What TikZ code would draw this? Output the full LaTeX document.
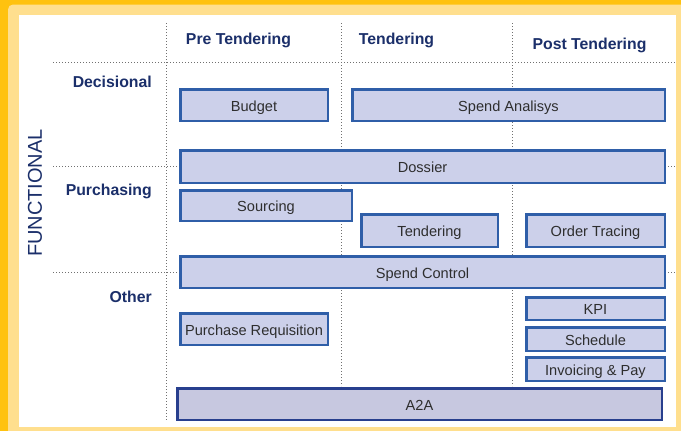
\documentclass[tikz,border=0pt]{standalone}
\usepackage{fontspec}
\setmainfont{Liberation Sans}
\definecolor{frameorange}{HTML}{FFC20F}
\definecolor{framelight}{HTML}{FFDF8E}
\definecolor{boxfill}{HTML}{CCD0EA}
\definecolor{boxline}{HTML}{2F5EA8}
\definecolor{atwofill}{HTML}{C7C8E0}
\definecolor{atwoline}{HTML}{283F8E}
\definecolor{navy}{HTML}{1B2F6A}
\definecolor{boxtext}{HTML}{2E2E2E}
\definecolor{gridgray}{HTML}{707070}
\begin{document}
\begin{tikzpicture}[x=1pt,y=-1pt,
    box/.style={draw=boxline, fill=boxfill, line width=2.5pt, inner sep=0pt,
      text=boxtext, font=\fontsize{14.6}{17}\selectfont, text height=12pt, text depth=0pt},
    head/.style={text=navy, font=\fontsize{15.8}{18}\selectfont\bfseries, inner sep=0pt},
    grid/.style={gridgray, line width=0.8pt, dash pattern=on 0.8pt off 2.2pt}]
  \useasboundingbox (0,0) rectangle (681,431);
  \fill[frameorange] (0,0) rectangle (681,431);
  \fill[framelight, rounded corners=5pt] (8,4.5) rectangle (700,450);
  \fill[white] (19,15) rectangle (676,427);
  \node[text=navy, font=\fontsize{20}{24}\selectfont, rotate=90, inner sep=0pt, text depth=0pt]
    (functional) at (35,193) {FUNCTIONAL};
  \draw[grid] (166,23) -- (166,420);
  \draw[grid] (341,23) -- (341,386);
  \draw[grid] (512,23) -- (512,386);
  \draw[grid] (53,62) -- (675,62);
  \draw[grid] (53,166) -- (675,166);
  \draw[grid] (53,272) -- (675,272);
  \node[head, anchor=base] (pre) at (238.5,45) {Pre Tendering};
  \node[head, anchor=base] (tend) at (396.5,45) {Tendering};
  \node[head, anchor=base] (post) at (589.5,49) {Post Tendering};
  \node[head, anchor=base east] (decisional) at (152,87.5) {Decisional};
  \node[head, anchor=base east] (purchasing) at (152,195) {Purchasing};
  \node[head, anchor=base east] (other) at (152,302) {Other};
  \begin{scope}[every node/.append style={box}]
    \node[minimum width=147.5pt, minimum height=31.5pt] (budget) at (254,105) {Budget};
    \node[minimum width=312.5pt, minimum height=31.5pt] (spend) at (508.5,105) {Spend Analisys};
    \node[minimum width=484.5pt, minimum height=32.5pt] (dossier) at (422.5,166.5) {Dossier};
    \node[minimum width=171.5pt, minimum height=30.5pt] (sourcing) at (266,205.5) {Sourcing};
    \node[minimum width=136.5pt, minimum height=32.5pt] (tendering) at (429.5,230.5) {Tendering};
    \node[minimum width=138.5pt, minimum height=32.5pt] (order) at (595.5,230.5) {Order Tracing};
    \node[minimum width=484.5pt, minimum height=31.5pt] (control) at (422.5,272) {Spend Control};
    \node[minimum width=147.5pt, minimum height=31.5pt] (requisition) at (254,329) {Purchase Requisition};
    \node[minimum width=138.5pt, minimum height=22.5pt] (kpi) at (595.5,308.5) {KPI};
    \node[minimum width=138.5pt, minimum height=23.5pt] (schedule) at (595.5,339) {Schedule};
    \node[minimum width=138.5pt, minimum height=23.5pt] (invoicing) at (595.5,369) {Invoicing \& Pay};
    \node[draw=atwoline, fill=atwofill, minimum width=484.5pt, minimum height=31.5pt] (atwoa) at (419.5,404) {A2A};
  \end{scope}
\end{tikzpicture}
\end{document}
